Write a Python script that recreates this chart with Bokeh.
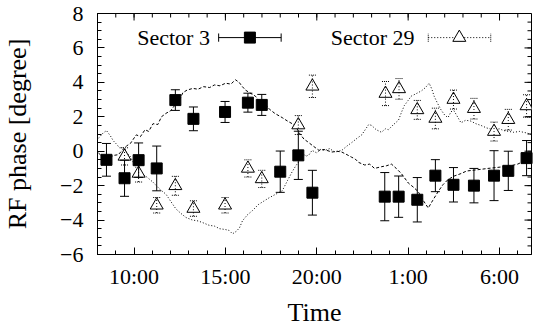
import math
from bokeh.plotting import figure
from bokeh.models import (ColumnDataSource, Whisker, TeeHead, FixedTicker,
                          Range1d, Label)
from bokeh.embed import file_html
from bokeh.resources import INLINE

# ---------------- data (time in hours; 25 = 1:00 next day) ----------------
x_major = [10, 15, 20, 25, 30]
x_labels = ["10:00", "15:00", "20:00", "1:00", "6:00"]
x_minor = list(range(8, 32))
y_major = [-6, -4, -2, 0, 2, 4, 6, 8]
y_minor = [v / 2 for v in range(-12, 17)]

# Sector 3 measured points (squares)
s3_t = [8.49, 9.48, 10.25, 11.24, 12.26, 13.25, 14.98, 16.23, 16.99, 18.0, 18.99,
        19.76, 23.72, 24.48, 25.5, 26.49, 27.48, 28.6, 29.7, 30.48, 31.48]
s3_v = [-0.5, -1.57, -0.52, -1.0, 2.97, 1.88, 2.28, 2.82, 2.69, -1.19, -0.24,
        -2.41, -2.64, -2.64, -2.82, -1.42, -1.95, -2.0, -1.42, -1.14, -0.4]
s3_err = [0.95, 1.05, 1.0, 1.3, 0.6, 0.69, 0.61, 0.55, 0.61, 1.2, 1.4,
          1.3, 1.4, 1.2, 1.29, 0.93, 1.0, 1.0, 1.45, 1.14, 1.02]

# Sector 29 measured points (triangles)
s29_t = [9.48, 10.25, 11.24, 12.26, 13.25, 14.98, 16.23, 16.99, 18.99, 19.76,
         23.76, 24.5, 25.5, 26.49, 27.48, 28.6, 29.7, 30.48, 31.48]
s29_v = [-0.3, -1.29, -3.14, -2.01, -3.33, -3.14, -1.0, -1.61, 1.52, 3.77,
         3.35, 3.62, 2.4, 1.9, 3.0, 2.47, 1.14, 1.83, 2.63]
s29_err = [0.5, 0.5, 0.45, 0.55, 0.45, 0.45, 0.5, 0.5, 0.55, 0.65,
           0.7, 0.6, 0.55, 0.6, 0.55, 0.6, 0.55, 0.6, 0.65]

# Sector 3 continuous trace (dashed)
s3_line_t = [8.05, 8.3, 8.6, 8.85, 9.14, 9.35, 9.58, 9.8, 10.12, 10.35, 10.6, 10.8,
             11.04, 11.3, 11.5, 11.75, 12.0, 12.29, 12.5, 12.67, 12.9, 13.22, 13.5,
             13.8, 14.14, 14.4, 14.7, 15.01, 15.3, 15.55, 15.75, 15.93, 16.1, 16.32,
             16.64, 16.9, 17.15, 17.4, 17.7, 18.11, 18.4, 18.82, 19.05, 19.3, 19.5,
             19.74, 20.12, 20.4, 20.83, 21.1, 21.37, 21.65, 21.91, 22.1, 22.29, 22.62,
             22.9, 23.16, 23.54, 23.8, 24.09, 24.35, 24.63, 25.01, 25.3, 25.55, 25.85,
             26.1, 26.35, 26.64, 26.9, 27.18, 27.5, 27.89, 28.2, 28.6, 29.0, 29.36,
             29.8, 30.23, 30.6, 30.99, 31.3, 31.53, 31.75]
s3_line_v = [-0.1, -0.35, -0.5, -0.25, -0.2, 0.05, 0.3, 0.45, 0.95, 0.85, 1.25, 1.15,
             1.6, 1.55, 2.0, 2.2, 2.35, 2.75, 3.0, 3.4, 3.55, 3.65, 3.6,
             3.75, 3.7, 3.85, 3.8, 3.95, 3.9, 4.15, 4.0, 3.75, 3.55, 3.4,
             3.2, 2.85, 2.75, 2.45, 2.2, 1.95, 1.75, 1.5, 1.05, 0.7, 0.55,
             0.35, 0.05, 0.1, -0.05, 0.0, -0.05, -0.2, -0.35, -0.45, -0.65, -0.8,
             -0.75, -1.0, -0.9, -0.85, -0.75, -1.0, -1.3, -1.85, -2.1, -2.35, -2.9,
             -3.3, -2.85, -2.35, -1.95, -1.65, -1.45, -1.3, -1.15, -1.1, -1.05, -1.0,
             -0.95, -0.9, -0.85, -0.75, -0.6, -0.5, -0.35]

# Sector 29 continuous trace (dotted)
s29_line_t = [8.05, 8.3, 8.49, 8.7, 8.87, 9.05, 9.2, 9.47, 9.6, 9.79, 10.12, 10.4,
              10.7, 11.04, 11.4, 11.75, 12.0, 12.29, 12.55, 12.84, 13.2, 13.5, 13.76,
              14.1, 14.4, 14.68, 15.0, 15.2, 15.39, 15.6, 15.77, 15.93, 16.2, 16.48,
              16.8, 17.1, 17.4, 17.75, 18.11, 18.4, 18.65, 18.85, 19.03, 19.2, 19.4,
              19.58, 19.74, 20.0, 20.2, 20.45, 20.7, 21.0, 21.37, 21.65, 21.91, 22.2,
              22.46, 22.65, 22.84, 23.0, 23.25, 23.54, 23.75, 23.92, 24.2, 24.47, 24.65,
              24.79, 25.0, 25.17, 25.45, 25.72, 25.95, 26.15, 26.3, 26.42, 26.6, 26.8,
              27.0, 27.18, 27.35, 27.51, 27.7, 27.89, 28.15, 28.43, 28.7, 28.98, 29.3,
              29.68, 30.0, 30.23, 30.5, 30.77, 31.1, 31.53, 31.75]
s29_line_v = [0.75, 1.05, 1.2, 0.9, 0.6, 0.4, 0.2, 0.2, -0.1, -0.3, -1.0, -1.3,
              -1.5, -1.8, -2.2, -2.5, -2.9, -3.35, -3.6, -3.85, -4.0, -4.05, -4.15,
              -4.3, -4.35, -4.5, -4.55, -4.6, -4.8, -4.65, -4.45, -4.05, -3.7, -3.45,
              -3.1, -2.9, -2.7, -2.5, -2.3, -1.7, -1.2, -0.85, -0.6, -0.05, -0.3,
              -0.2, 0.05, -0.1, 0.1, 0.05, 0.15, -0.05, 0.05, 0.3, 0.5, 0.75,
              0.95, 1.25, 1.55, 1.5, 1.25, 1.1, 1.3, 1.25, 1.55, 1.8, 2.3,
              2.65, 2.95, 3.2, 3.35, 3.5, 3.7, 3.95, 3.6, 3.2, 2.8, 2.4,
              2.1, 1.95, 2.3, 2.35, 2.0, 1.65, 1.8, 1.75, 1.6, 1.5, 1.35,
              1.25, 1.3, 1.2, 1.15, 1.1, 1.15, 1.05, 0.95]

FONT = "Liberation Serif"
X0, X1, Y0, Y1 = 8, 31.75, -6, 8

# ---------------- figure ----------------
p = figure(width=536, height=329, output_backend="svg", toolbar_location=None,
           x_range=Range1d(X0, X1), y_range=Range1d(Y0, Y1),
           min_border_left=94, min_border_right=5, min_border_top=13,
           min_border_bottom=75, background_fill_color="white",
           border_fill_color="white")
p.xgrid.visible = False
p.ygrid.visible = False
p.outline_line_color = "black"
p.outline_line_width = 1
p.outline_line_alpha = 1

p.xaxis.ticker = FixedTicker(ticks=x_major, minor_ticks=x_minor)
p.yaxis.ticker = FixedTicker(ticks=y_major, minor_ticks=y_minor)

p.axis.major_tick_in = 7
p.axis.major_tick_out = 0
p.axis.minor_tick_in = 4
p.axis.minor_tick_out = 0
p.axis.axis_line_color = "black"
p.axis.major_tick_line_color = "black"
p.axis.minor_tick_line_color = "black"
p.axis.major_label_text_font = FONT
p.axis.major_label_text_font_size = "22px"
p.axis.major_label_text_color = "black"
p.axis.axis_label_text_font = FONT
p.axis.axis_label_text_font_size = "26px"
p.axis.axis_label_text_font_style = "normal"
p.axis.axis_label_text_color = "black"

p.xaxis.major_label_overrides = {k: v for k, v in zip(x_major, x_labels)}
p.xaxis.axis_label = "Time"
p.xaxis.major_label_standoff = 9
p.xaxis.axis_label_standoff = 6

p.yaxis.axis_label = "RF phase [degree]"
p.yaxis.major_label_standoff = 14
p.yaxis.axis_label_standoff = 25

# mirrored ticks on top and right frame edges
p.ray(x=x_major, y=[Y1] * len(x_major), length=7, length_units="screen",
      angle=-math.pi / 2, line_color="black", line_width=1)
p.ray(x=x_minor, y=[Y1] * len(x_minor), length=4, length_units="screen",
      angle=-math.pi / 2, line_color="black", line_width=1)
p.ray(x=[X1] * len(y_major), y=y_major, length=7, length_units="screen",
      angle=math.pi, line_color="black", line_width=1)
p.ray(x=[X1] * len(y_minor), y=y_minor, length=4, length_units="screen",
      angle=math.pi, line_color="black", line_width=1)

# ---------------- traces ----------------
p.line(s3_line_t, s3_line_v, line_color="black", line_width=1, line_dash="3 2")
p.line(s29_line_t, s29_line_v, line_color="black", line_width=1, line_dash="1 2")

# triangles with dotted error bars
src29 = ColumnDataSource(dict(t=s29_t, v=s29_v,
                              lo=[a - b for a, b in zip(s29_v, s29_err)],
                              hi=[a + b for a, b in zip(s29_v, s29_err)]))
p.scatter("t", "v", source=src29, marker="triangle", size=13,
          fill_color="white", line_color="black", line_width=1)
w29 = Whisker(source=src29, base="t", lower="lo", upper="hi",
              line_color="black", line_width=1, line_dash="1 2", level="overlay",
              upper_head=TeeHead(size=7, line_color="black", line_dash="1 1"),
              lower_head=TeeHead(size=7, line_color="black", line_dash="1 1"))
p.add_layout(w29)

# squares with solid error bars
src3 = ColumnDataSource(dict(t=s3_t, v=s3_v,
                             lo=[a - b for a, b in zip(s3_v, s3_err)],
                             hi=[a + b for a, b in zip(s3_v, s3_err)]))
w3 = Whisker(source=src3, base="t", lower="lo", upper="hi",
             line_color="black", line_width=1, level="overlay",
             upper_head=TeeHead(size=9, line_color="black"),
             lower_head=TeeHead(size=9, line_color="black"))
p.add_layout(w3)
p.scatter("t", "v", source=src3, marker="square", size=11,
          fill_color="black", line_color="black", level="overlay")

# ---------------- legend (drawn) ----------------
leg_y = 6.6
leg_cap = 0.24
p.add_layout(Label(x=14.15, y=leg_y, text="Sector 3", text_align="right",
                   text_baseline="middle", text_font=FONT,
                   text_font_size="22px", text_color="black"))
p.segment(x0=[14.63], y0=[leg_y], x1=[18.05], y1=[leg_y], line_color="black")
p.segment(x0=[14.63, 18.05], y0=[leg_y - leg_cap] * 2, x1=[14.63, 18.05],
          y1=[leg_y + leg_cap] * 2, line_color="black")
p.scatter([16.34], [leg_y], marker="square", size=11, fill_color="black",
          line_color="black")

p.add_layout(Label(x=25.35, y=leg_y, text="Sector 29", text_align="right",
                   text_baseline="middle", text_font=FONT,
                   text_font_size="22px", text_color="black"))
p.segment(x0=[26.1], y0=[leg_y], x1=[29.52], y1=[leg_y], line_color="black",
          line_dash="1 2")
p.segment(x0=[26.1, 29.52], y0=[leg_y - leg_cap] * 2, x1=[26.1, 29.52],
          y1=[leg_y + leg_cap] * 2, line_color="black", line_dash="1 1")
p.scatter([27.8], [leg_y], marker="triangle", size=13, fill_color="white",
          line_color="black")

open("out.html", "w").write(file_html(p, INLINE))
